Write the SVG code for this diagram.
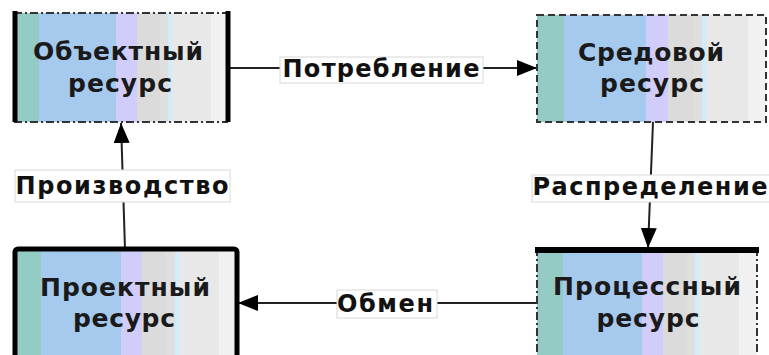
<svg xmlns="http://www.w3.org/2000/svg" width="769" height="355" viewBox="0 0 769 355">
<defs>
<linearGradient id="stripes" x1="0" y1="0" x2="1" y2="0">
<stop offset="0" stop-color="#95cbc5"/><stop offset="0.117" stop-color="#95cbc5"/>
<stop offset="0.117" stop-color="#a6c9ee"/><stop offset="0.478" stop-color="#a6c9ee"/>
<stop offset="0.478" stop-color="#d0cdfb"/><stop offset="0.574" stop-color="#d0cdfb"/>
<stop offset="0.574" stop-color="#dbdbdb"/><stop offset="0.68" stop-color="#dbdbdb"/>
<stop offset="0.68" stop-color="#dfdfdf"/><stop offset="0.72" stop-color="#dfdfdf"/>
<stop offset="0.72" stop-color="#d3ecfb"/><stop offset="0.738" stop-color="#d3ecfb"/>
<stop offset="0.738" stop-color="#e8e8e8"/><stop offset="0.92" stop-color="#e8e8e8"/>
<stop offset="0.92" stop-color="#f1f1f1"/><stop offset="1" stop-color="#f1f1f1"/>
</linearGradient>
<marker id="arr" viewBox="0 0 20 16" refX="20" refY="8" markerWidth="20" markerHeight="16" markerUnits="userSpaceOnUse" orient="auto">
<path d="M0,0 L20,8 L0,16 Z" fill="#000"/>
</marker>
</defs>
<style>
.fill{fill:url(#stripes);stroke:none}
.nt{font-family:"DejaVu Sans",Verdana,sans-serif;font-weight:bold;font-size:25px;fill:#1a1a1a;text-anchor:middle}
.lt{font-family:"DejaVu Sans",Verdana,sans-serif;font-weight:bold;font-size:24px;fill:#111;text-anchor:middle}
.lb{fill:#fff;stroke:#d8d8d8;stroke-width:1}
.conn{stroke:#222;stroke-width:2;fill:none}
.thick{stroke:#000;stroke-width:5;fill:none}
.dashdot{stroke:#333;stroke-width:2;fill:none;stroke-dasharray:8 3 2 3}
.dash{stroke:#333;stroke-width:2;fill:none;stroke-dasharray:7 4}
</style>

<g id="connectors">
<line class="conn" x1="228" y1="68" x2="537" y2="68" marker-end="url(#arr)"/>
<line class="conn" x1="653" y1="122" x2="648" y2="248" marker-end="url(#arr)"/>
<line class="conn" x1="537" y1="303" x2="238" y2="303" marker-end="url(#arr)"/>
<line class="conn" x1="125" y1="249" x2="121" y2="123" marker-end="url(#arr)"/>
<g id="label-potreblenie">
<rect class="lb" x="280" y="57" width="203" height="26"/>
<text class="lt" x="381" y="77" textLength="197" lengthAdjust="spacing">Потребление</text>
</g>
<g id="label-raspredelenie">
<rect class="lb" x="532" y="175" width="240" height="27"/>
<text class="lt" x="650" y="195" textLength="235" lengthAdjust="spacing">Распределение</text>
</g>
<g id="label-obmen">
<rect class="lb" x="337" y="290" width="100" height="28"/>
<text class="lt" x="385" y="312" textLength="96" lengthAdjust="spacing">Обмен</text>
</g>
<g id="label-proizvodstvo">
<rect class="lb" x="15" y="170" width="215" height="32"/>
<text class="lt" x="122" y="194" textLength="213" lengthAdjust="spacing">Производство</text>
</g>
</g>

<g id="node-obektny">
<rect class="fill" x="14" y="13" width="214" height="109"/>
<line class="dashdot" x1="14" y1="13" x2="228" y2="13"/>
<line class="dashdot" x1="14" y1="122" x2="228" y2="122"/>
<line class="thick" x1="15" y1="11" x2="15" y2="122"/>
<line class="thick" x1="228" y1="11" x2="228" y2="122"/>
<text class="nt" x="118" y="60" textLength="170" lengthAdjust="spacing">Объектный</text>
<text class="nt" x="120" y="92" textLength="104" lengthAdjust="spacing">ресурс</text>
</g>

<g id="node-sredovoy">
<rect class="fill" x="537" y="15" width="229" height="107"/>
<rect class="dash" x="537" y="15" width="229" height="107"/>
<text class="nt" x="651" y="61" textLength="146" lengthAdjust="spacing">Средовой</text>
<text class="nt" x="652" y="92" textLength="104" lengthAdjust="spacing">ресурс</text>
</g>

<g id="node-proektny">
<rect class="fill" x="15" y="249" width="222" height="115"/>
<rect class="thick" x="15" y="249" width="222" height="115" rx="3"/>
<text class="nt" x="125" y="296" textLength="170" lengthAdjust="spacing">Проектный</text>
<text class="nt" x="124" y="327" textLength="102" lengthAdjust="spacing">ресурс</text>
</g>

<g id="node-processny">
<rect class="fill" x="537" y="248" width="220" height="116"/>
<line class="dashdot" x1="537" y1="248" x2="537" y2="364"/>
<line class="dashdot" x1="757" y1="248" x2="757" y2="364"/>
<line stroke="#000" stroke-width="6" x1="535" y1="250" x2="759" y2="250"/>
<text class="nt" x="647" y="295" textLength="188" lengthAdjust="spacing">Процессный</text>
<text class="nt" x="648" y="327" textLength="103" lengthAdjust="spacing">ресурс</text>
</g>
</svg>
